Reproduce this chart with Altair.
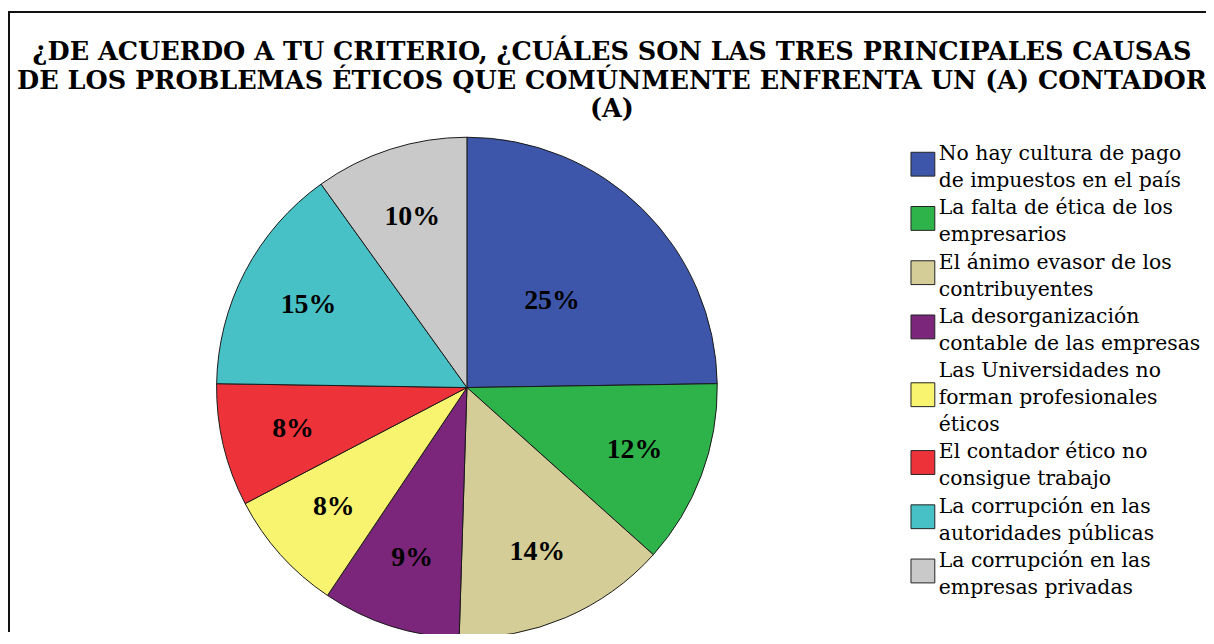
import altair as alt
import pandas as pd

title_lines = [
    "¿DE ACUERDO A TU CRITERIO, ¿CUÁLES SON LAS TRES PRINCIPALES CAUSAS",
    "DE LOS PROBLEMAS ÉTICOS QUE COMÚNMENTE ENFRENTA UN (A) CONTADOR",
    "(A)",
]
categories = [
    "No hay cultura de pago de impuestos en el país",
    "La falta de ética de los empresarios",
    "El ánimo evasor de los contribuyentes",
    "La desorganización contable de las empresas",
    "Las Universidades no forman profesionales éticos",
    "El contador ético no consigue trabajo",
    "La corrupción en las autoridades públicas",
    "La corrupción en las empresas privadas",
]
legend_labels = [
    "No hay cultura de pago\nde impuestos en el país",
    "La falta de ética de los\nempresarios",
    "El ánimo evasor de los\ncontribuyentes",
    "La desorganización\ncontable de las empresas",
    "Las Universidades no\nforman profesionales\néticos",
    "El contador ético no\nconsigue trabajo",
    "La corrupción en las\nautoridades públicas",
    "La corrupción en las\nempresas privadas",
]
counts = [25, 12, 14, 9, 8, 8, 15, 10]
colors = ["#3D56A9", "#2EB34B", "#D4CD97", "#7B267A",
          "#F9F46F", "#EE323A", "#47C1C6", "#C9C9C9"]

df = pd.DataFrame({
    "cat": categories,
    "legend": legend_labels,
    "count": counts,
    "idx": list(range(len(categories))),
})

W, H = 1206, 626
CX, CY, R = 462, 380, 252
SERIF = "DejaVu Serif"
LH = 27.3

color = alt.Color("cat:N", scale=alt.Scale(domain=categories, range=colors), legend=None)
base = alt.Chart(df)
blank = alt.Data(values=[{}])

frame_top = alt.Chart(blank).mark_rule(color="#111", strokeWidth=2).encode(
    x=alt.value(0), x2=alt.value(W), y=alt.value(2))
frame_left = alt.Chart(blank).mark_rule(color="#111", strokeWidth=2).encode(
    x=alt.value(1), y=alt.value(2), y2=alt.value(H))

title = alt.Chart(blank).mark_text(
    font=SERIF, fontSize=25.7, fontWeight="bold", lineHeight=29,
    baseline="alphabetic", align="center", color="black"
).encode(x=alt.value(608), y=alt.value(50), text=alt.value(title_lines))

pie = base.mark_arc(radius=R, stroke="#1a1a1a", strokeWidth=1).encode(
    theta=alt.Theta("count:Q", stack=True),
    order=alt.Order("idx:Q"),
    color=color,
    x=alt.value(CX), y=alt.value(CY),
)

labels = base.transform_joinaggregate(
    total="sum(count)"
).transform_window(
    cum="sum(count)", sort=[alt.SortField("idx")]
).transform_calculate(
    pct="round(datum.count / datum.total * 100) + '%'",
    mid="datum.cum - datum.count / 2",
    r="datum.idx == 0 ? 122 : 180",
).mark_text(font="Liberation Serif", fontSize=28, fontWeight="bold", color="black").encode(
    theta=alt.Theta("mid:Q", stack=False),
    radius=alt.Radius("r:Q", scale=None),
    text="pct:N",
    x=alt.value(CX), y=alt.value(CY),
)

leg = base.transform_calculate(
    nl="length(split(datum.legend, '\\n'))"
).transform_window(
    cum="sum(nl)", sort=[alt.SortField("idx")]
).transform_calculate(
    ly=f"151 + (datum.cum - datum.nl) * {LH}",
).transform_calculate(
    sy=f"datum.ly + (datum.nl - 1) * {LH} / 2 - 9.5",
)

leg_sym = leg.mark_square(size=576, stroke="#222", strokeWidth=1, opacity=1).encode(
    x=alt.value(921), y=alt.Y("sy:Q", scale=None, axis=None), color=color)

leg_text = leg.mark_text(
    align="left", baseline="alphabetic", lineBreak="\n", lineHeight=LH,
    font=SERIF, fontSize=20.5, color="black"
).encode(x=alt.value(937), y=alt.Y("ly:Q", scale=None, axis=None), text="legend:N")

chart = alt.layer(frame_top, frame_left, title, pie, labels, leg_sym, leg_text).properties(
    width=W, height=H, padding=0,
    autosize=alt.AutoSizeParams(type="none"),
).configure_view(stroke=None)

chart.save("out.html", embed_options={"renderer": "svg", "actions": False})
